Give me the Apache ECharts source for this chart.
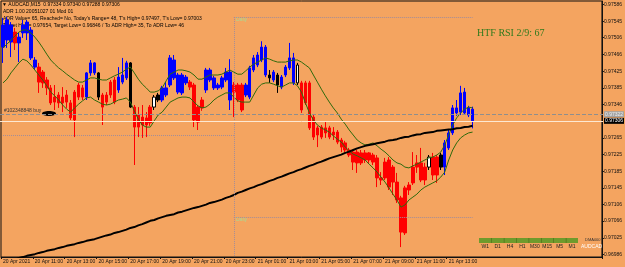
<!DOCTYPE html>
<html>
<head>
<meta charset="utf-8">
<script src="https://cdn.jsdelivr.net/npm/echarts@6/dist/echarts.min.js"></script>
<style>
    html, body {margin: 0; padding: 0; background: #F4A460;}
    #chart {width: 625px; height: 267px;}
</style>
</head>
<body>
<div id="chart"></div>
<script>
    // AUDCAD M15, 20 Apr 09:00 .. 21 Apr 14:30 (119 bars)
    var opens = [
        0.97483,0.97500,0.97495,0.97519,0.97493,0.97517,0.97517,0.97457,0.97435,0.97435,
        0.97423,0.97404,0.97385,0.97363,0.97368,0.97363,0.97368,0.97349,0.97375,0.97392,
        0.97385,0.97363,0.97421,0.97421,0.97421,0.97368,0.97368,0.97399,0.97404,0.97380,
        0.97399,0.97409,0.97445,0.97339,0.97320,0.97315,0.97313,0.97339,0.97339,0.97368,
        0.97356,0.97368,0.97392,0.97409,0.97375,0.97373,0.97397,0.97399,0.97392,0.97339,
        0.97356,0.97380,0.97404,0.97385,0.97385,0.97387,0.97404,0.97356,0.97392,0.97392,
        0.97392,0.97368,0.97363,0.97428,0.97440,0.97452,0.97416,0.97416,0.97404,0.97416,
        0.97387,0.97416,0.97433,0.97397,0.97397,0.97397,0.97397,0.97397,0.97315,0.97289,
        0.97291,0.97289,0.97289,0.97279,0.97279,0.97260,0.97253,0.97236,0.97231,0.97231,
        0.97229,0.97229,0.97229,0.97224,0.97217,0.97169,0.97207,0.97212,0.97195,0.97159,
        0.97121,0.97145,0.97152,0.97195,0.97205,0.97205,0.97195,0.97195,0.97219,0.97219,
        0.97224,0.97195,0.97241,0.97277,0.97325,0.97327,0.97325,0.97320,0.97334
    ];
    var closes = [
        0.97536,0.97548,0.97536,0.97493,0.97507,0.97536,0.97543,0.97524,0.97452,0.97399,
        0.97397,0.97385,0.97349,0.97351,0.97349,0.97349,0.97351,0.97313,0.97308,0.97363,
        0.97363,0.97421,0.97445,0.97445,0.97363,0.97339,0.97351,0.97368,0.97351,0.97411,
        0.97416,0.97445,0.97339,0.97291,0.97291,0.97296,0.97296,0.97301,0.97363,0.97356,
        0.97385,0.97385,0.97457,0.97452,0.97416,0.97416,0.97411,0.97387,0.97308,0.97303,
        0.97337,0.97428,0.97428,0.97409,0.97392,0.97409,0.97423,0.97423,0.97375,0.97356,
        0.97332,0.97392,0.97433,0.97457,0.97464,0.97483,0.97483,0.97409,0.97423,0.97392,
        0.97411,0.97435,0.97457,0.97457,0.97440,0.97332,0.97349,0.97289,0.97267,0.97272,
        0.97267,0.97277,0.97267,0.97272,0.97255,0.97243,0.97236,0.97224,0.97207,0.97205,
        0.97205,0.97212,0.97212,0.97207,0.97169,0.97164,0.97169,0.97147,0.97159,0.97116,
        0.97039,0.97037,0.97140,0.97157,0.97195,0.97164,0.97164,0.97219,0.97176,0.97176,
        0.97195,0.97253,0.97277,0.97337,0.97337,0.97373,0.97375,0.97337,0.97306
    ];
    var lows = [
        0.97445,0.97481,0.97459,0.97476,0.97447,0.97505,0.97500,0.97452,0.97428,0.97373,
        0.97385,0.97368,0.97344,0.97332,0.97337,0.97327,0.97337,0.97308,0.97267,0.97356,
        0.97356,0.97356,0.97414,0.97416,0.97356,0.97296,0.97344,0.97361,0.97346,0.97373,
        0.97394,0.97404,0.97337,0.97200,0.97267,0.97265,0.97267,0.97294,0.97332,0.97351,
        0.97351,0.97363,0.97387,0.97404,0.97370,0.97368,0.97392,0.97380,0.97291,0.97284,
        0.97330,0.97373,0.97399,0.97380,0.97380,0.97382,0.97399,0.97332,0.97315,0.97351,
        0.97327,0.97363,0.97358,0.97423,0.97435,0.97447,0.97411,0.97397,0.97399,0.97373,
        0.97382,0.97411,0.97428,0.97392,0.97392,0.97325,0.97344,0.97284,0.97260,0.97243,
        0.97262,0.97265,0.97262,0.97260,0.97250,0.97231,0.97231,0.97219,0.97188,0.97181,
        0.97200,0.97205,0.97205,0.97200,0.97147,0.97152,0.97164,0.97140,0.97128,0.97109,
        0.97003,0.97032,0.97128,0.97152,0.97181,0.97159,0.97152,0.97188,0.97164,0.97157,
        0.97188,0.97176,0.97236,0.97272,0.97318,0.97320,0.97320,0.97315,0.97288
    ];
    var highs = [
        0.97553,0.97555,0.97543,0.97529,0.97517,0.97548,0.97548,0.97531,0.97459,0.97445,
        0.97428,0.97411,0.97392,0.97392,0.97375,0.97387,0.97380,0.97356,0.97380,0.97397,
        0.97392,0.97423,0.97452,0.97447,0.97423,0.97373,0.97375,0.97404,0.97411,0.97435,
        0.97457,0.97450,0.97447,0.97344,0.97339,0.97344,0.97327,0.97344,0.97368,0.97373,
        0.97390,0.97399,0.97464,0.97464,0.97421,0.97421,0.97416,0.97404,0.97397,0.97344,
        0.97363,0.97433,0.97433,0.97414,0.97397,0.97414,0.97433,0.97454,0.97399,0.97397,
        0.97397,0.97397,0.97438,0.97464,0.97471,0.97497,0.97488,0.97428,0.97428,0.97421,
        0.97416,0.97440,0.97493,0.97469,0.97445,0.97402,0.97402,0.97402,0.97320,0.97294,
        0.97296,0.97303,0.97294,0.97291,0.97284,0.97265,0.97258,0.97241,0.97236,0.97236,
        0.97236,0.97236,0.97231,0.97229,0.97224,0.97183,0.97217,0.97219,0.97200,0.97181,
        0.97126,0.97150,0.97159,0.97231,0.97224,0.97241,0.97205,0.97224,0.97229,0.97224,
        0.97229,0.97260,0.97284,0.97344,0.97356,0.97390,0.97385,0.97342,0.97340
    ];
    // candle colouring of the chart template: b = blue, r = red, k = black, w = white
    var candleState = ('bbbrbbbbb' + 'rrrrrrrrrrrr' + 'bbbk' + 'rrrr' + 'bbbk' + 'rrrrr' + 'wk' +
        'bbbbbbb' + 'rrrr' + 'bbbbbbb' + 'rrr' + 'bbbbbb' + 'kbk' + 'bbbb' + 'w' +
        'rrrrrrrrrrrrrrrrrrrrrrrrrrrrrrrr' + 'w' + 'rr' + 'k' + 'bbbbbbbb').split('');

    // long moving average (black)
    var maLong = [
        0.96965,0.96967,0.96971,0.96973,0.96977,0.96979,0.96982,0.96984,0.96986,0.96989,
        0.96991,0.96994,0.96996,0.96998,0.97001,0.97003,0.97006,0.97008,0.97010,0.97013,
        0.97015,0.97018,0.97020,0.97022,0.97025,0.97028,0.97031,0.97033,0.97037,0.97039,
        0.97042,0.97045,0.97049,0.97051,0.97055,0.97058,0.97062,0.97066,0.97068,0.97072,
        0.97075,0.97078,0.97080,0.97082,0.97086,0.97088,0.97091,0.97094,0.97097,0.97099,
        0.97102,0.97105,0.97109,0.97111,0.97114,0.97117,0.97121,0.97124,0.97128,0.97133,
        0.97136,0.97140,0.97144,0.97147,0.97151,0.97154,0.97158,0.97162,0.97165,0.97169,
        0.97172,0.97176,0.97180,0.97183,0.97187,0.97190,0.97194,0.97198,0.97201,0.97205,
        0.97208,0.97212,0.97216,0.97219,0.97222,0.97225,0.97229,0.97232,0.97236,0.97240,
        0.97243,0.97246,0.97248,0.97250,0.97252,0.97254,0.97256,0.97259,0.97260,0.97262,
        0.97265,0.97267,0.97268,0.97271,0.97273,0.97274,0.97277,0.97278,0.97279,0.97282,
        0.97283,0.97284,0.97285,0.97286,0.97288,0.97289,0.97291,0.97292,0.97294
    ];
    // channel (green)
    var bandUpper = [
        0.97481,0.97490,0.97500,0.97510,0.97519,0.97524,0.97524,0.97517,0.97507,0.97495,
        0.97481,0.97466,0.97452,0.97442,0.97433,0.97426,0.97418,0.97411,0.97404,0.97399,
        0.97399,0.97404,0.97409,0.97409,0.97406,0.97404,0.97404,0.97409,0.97414,0.97418,
        0.97423,0.97430,0.97435,0.97421,0.97406,0.97394,0.97385,0.97375,0.97375,0.97378,
        0.97385,0.97402,0.97418,0.97423,0.97428,0.97428,0.97426,0.97423,0.97416,0.97406,
        0.97406,0.97411,0.97416,0.97416,0.97416,0.97418,0.97423,0.97428,0.97423,0.97418,
        0.97418,0.97426,0.97435,0.97442,0.97447,0.97452,0.97457,0.97454,0.97450,0.97447,
        0.97447,0.97447,0.97450,0.97452,0.97452,0.97447,0.97440,0.97433,0.97416,0.97399,
        0.97382,0.97366,0.97351,0.97337,0.97325,0.97310,0.97298,0.97284,0.97272,0.97260,
        0.97253,0.97248,0.97250,0.97253,0.97246,0.97238,0.97231,0.97222,0.97212,0.97205,
        0.97202,0.97195,0.97193,0.97198,0.97202,0.97207,0.97212,0.97217,0.97219,0.97224,
        0.97231,0.97248,0.97272,0.97296,0.97313,0.97325,0.97334,0.97339,0.97337
    ];
    var bandLower = [
        0.97397,0.97406,0.97421,0.97433,0.97445,0.97454,0.97450,0.97440,0.97428,0.97416,
        0.97404,0.97390,0.97375,0.97366,0.97356,0.97344,0.97334,0.97327,0.97337,0.97346,
        0.97354,0.97361,0.97363,0.97356,0.97351,0.97346,0.97344,0.97346,0.97351,0.97356,
        0.97358,0.97361,0.97351,0.97330,0.97310,0.97296,0.97291,0.97291,0.97306,0.97320,
        0.97327,0.97339,0.97351,0.97356,0.97361,0.97363,0.97363,0.97361,0.97351,0.97342,
        0.97337,0.97339,0.97346,0.97356,0.97363,0.97368,0.97373,0.97373,0.97363,0.97354,
        0.97351,0.97351,0.97351,0.97368,0.97385,0.97394,0.97397,0.97397,0.97394,0.97390,
        0.97387,0.97392,0.97397,0.97397,0.97390,0.97375,0.97349,0.97325,0.97308,0.97296,
        0.97289,0.97284,0.97279,0.97270,0.97262,0.97255,0.97243,0.97234,0.97226,0.97222,
        0.97217,0.97212,0.97202,0.97193,0.97183,0.97171,0.97159,0.97145,0.97130,0.97116,
        0.97099,0.97104,0.97116,0.97123,0.97130,0.97140,0.97147,0.97152,0.97157,0.97162,
        0.97171,0.97183,0.97212,0.97236,0.97253,0.97265,0.97272,0.97277,0.97279
    ];

    var bidPrice = 0.97306;
    var orderPrice = 0.97322;
    var prevDayLevel = 0.97272;
    var dayHighLevel = 0.97555;
    var dayLowLevel = 0.97075;
    var dayStartBar = 58;

    var yTicks = [0.97586, 0.97545, 0.97506, 0.97466, 0.97425, 0.97385, 0.97346,
        0.97265, 0.97225, 0.97185, 0.97145, 0.97106, 0.97066, 0.97025, 0.96986];
    var xTickLabels = ['20 Apr 2021', '20 Apr 11:00', '20 Apr 13:00', '20 Apr 15:00', '20 Apr 17:00',
        '20 Apr 19:00', '20 Apr 21:00', '20 Apr 23:00', '21 Apr 01:00', '21 Apr 03:00',
        '21 Apr 05:00', '21 Apr 07:00', '21 Apr 09:00', '21 Apr 11:00', '21 Apr 13:00'];
    var tfLabels = ['W1', 'D1', 'H4', 'H1', 'M30', 'M15', 'M5', 'M1'];

    var yMin = 0.969792, yMax = 0.975936;

    // 151 slots of 15 minutes (bars + empty chart shift on the right)
    var slotCount = 151;
    var categories = [];
    for (var i = 0; i < slotCount; i++) {
        var m = 9 * 60 + 15 * i;
        var hh = Math.floor((m % 1440) / 60), mm = m % 60;
        categories.push((20 + Math.floor(m / 1440)) + ' Apr ' + (hh < 10 ? '0' : '') + hh + ':' + (mm < 10 ? '0' : '') + mm);
    }

    var stateColors = {b: '#0000ff', r: '#ff0000', k: '#000000', w: '#ffffff'};
    var candles = [];
    for (var j = 0; j < opens.length; j++) {
        var c = stateColors[candleState[j]];
        var edge = candleState[j] === 'w' ? '#000000' : c;
        candles.push({
            value: [opens[j], closes[j], lows[j], highs[j]],
            itemStyle: {color: c, color0: c, borderColor: edge, borderColor0: edge, borderWidth: 1}
        });
    }

    var isTick = function (index) {
        return index % 8 === 0 && index / 8 < xTickLabels.length;
    };
    var small = '"Liberation Sans", Arial, sans-serif';
    var dotted = {color: '#a38d9a', type: 'dotted', width: 1};
    var lastSlot = slotCount - 1;
    var lastBar = opens.length - 1;

    var chart = echarts.init(document.getElementById('chart'));

    var graphics = [
        {type: 'text', x: 2, y: 5, z: 0, style: {text: '\u25BC AUDCAD,M15  0.97334 0.97340 0.97288 0.97306', font: '5px ' + small, fill: '#000', verticalAlign: 'middle'}},
        {type: 'text', x: 3, y: 12, z: 0, style: {text: 'ADR 1.00 20051027 01 Mod 01', font: '5px ' + small, fill: '#000', verticalAlign: 'middle'}},
        {type: 'text', x: 3, y: 19, z: 0, style: {text: "ADR Value= 65, Reached= No, Today's Range= 48, T's High= 0.97497, T's Low= 0.97003", font: '5px ' + small, fill: '#000', verticalAlign: 'middle'}},
        {type: 'text', x: 3, y: 25.5, z: 0, style: {text: 'Target High= 0.97654, Target Low= 0.96846 / To ADR High= 35, To ADR Low= 46', font: '5px ' + small, fill: '#000', verticalAlign: 'middle'}},
        {type: 'text', x: 477, y: 33, z: 0, style: {text: 'HTF RSI 2/9: 67', font: '10px "Liberation Serif", serif', fill: '#2f7a1c', verticalAlign: 'middle'}},
        {type: 'text', x: 4, y: 113, z: 0, style: {text: '#102348848 buy', font: '5px ' + small, fill: '#333', verticalAlign: 'bottom'}},
        {type: 'ellipse', shape: {cx: 49, cy: 113.5, rx: 7, ry: 2.5}, z: 0, style: {fill: '#000'}},
        {type: 'text', x: 236, y: 20, z: 0, style: {text: 'Daily', font: '5px ' + small, fill: '#a6dc95', verticalAlign: 'middle'}},
        {type: 'text', x: 236, y: 220, z: 0, style: {text: 'Daily', font: '5px ' + small, fill: '#a6dc95', verticalAlign: 'middle'}},
        {type: 'rect', shape: {x: 479, y: 238, width: 99, height: 5}, z: 0, style: {fill: '#6f9b2c'}},
        {type: 'text', x: 585, y: 240, z: 0, style: {text: 'DMA000', font: '4px ' + small, fill: '#333', verticalAlign: 'middle'}},
        {type: 'text', x: 581, y: 247, z: 0, style: {text: 'AUDCAD', font: '5px ' + small, fill: '#ffffff', verticalAlign: 'middle'}}
    ];
    tfLabels.forEach(function (t, k) {
        graphics.push({type: 'text', x: 485.2 + k * 12.4, y: 247, z: 0, style: {text: t, font: '5px ' + small, fill: '#222', align: 'center', verticalAlign: 'middle'}});
        if (k > 0) {
            graphics.push({type: 'rect', shape: {x: 479 + k * 12.4, y: 238, width: 0.6, height: 5}, z: 0, style: {fill: '#4a6a1a'}});
        }
    });

    var option = {
        backgroundColor: '#F4A460',
        animation: false,
        grid: {left: 0, right: 22, top: 1, bottom: 10, show: true, borderColor: '#111', borderWidth: 1, backgroundColor: 'transparent'},
        xAxis: {
            type: 'category',
            data: categories,
            boundaryGap: true,
            axisLine: {show: true, lineStyle: {color: '#111', width: 1}},
            axisTick: {show: true, interval: isTick, length: 2, lineStyle: {color: '#111'}},
            axisLabel: {
                interval: isTick,
                formatter: function (v, idx) { return xTickLabels[idx / 8] || ''; },
                align: 'left', fontSize: 5, color: '#111', margin: 2, fontFamily: small
            },
            splitLine: {show: false}
        },
        yAxis: {
            type: 'value',
            position: 'right',
            min: yMin,
            max: yMax,
            axisLine: {show: true, lineStyle: {color: '#111', width: 1}},
            axisTick: {show: true, length: 2, customValues: yTicks, lineStyle: {color: '#111'}},
            axisLabel: {
                customValues: yTicks,
                formatter: function (v) { return v.toFixed(5); },
                fontSize: 5, color: '#111', margin: 2, fontFamily: small
            },
            splitLine: {show: false}
        },
        graphic: {elements: graphics},
        series: [
            {
                type: 'candlestick',
                data: candles,
                barWidth: 3,
                z: 2
            },
            {
                type: 'line', data: bandUpper, symbol: 'none', z: 3,
                lineStyle: {color: '#2e6a0c', width: 1}
            },
            {
                type: 'line', data: bandLower, symbol: 'none', z: 3,
                lineStyle: {color: '#2e6a0c', width: 1}
            },
            {
                type: 'line', data: maLong, symbol: 'none', z: 4,
                lineStyle: {color: '#000000', width: 2},
                markLine: {
                    symbol: ['none', 'none'],
                    silent: true,
                    animation: false,
                    label: {show: false},
                    data: [
                        [{coord: [0, prevDayLevel], lineStyle: dotted}, {coord: [dayStartBar, prevDayLevel]}],
                        [{coord: [dayStartBar, dayHighLevel], lineStyle: dotted}, {coord: [lastBar, dayHighLevel]}],
                        [{coord: [dayStartBar, dayLowLevel], lineStyle: dotted}, {coord: [lastBar, dayLowLevel]}],
                        [{coord: [dayStartBar, dayHighLevel], lineStyle: dotted}, {coord: [dayStartBar, yMin]}],
                        [{coord: [0, orderPrice], x: 0, lineStyle: {color: '#8e8e8e', type: [4, 2], width: 1}},
                            {coord: [lastSlot, orderPrice], x: 603}],
                        [{coord: [0, bidPrice], x: 0, lineStyle: {color: '#fde8d2', type: 'solid', width: 1}},
                            {coord: [lastSlot, bidPrice], x: 603}]
                    ]
                }
            }
        ]
    };
    chart.setOption(option);

    // price tags on the right scale, placed through the y axis
    function priceTag(price, bg, fg) {
        var y = chart.convertToPixel({yAxisIndex: 0}, price);
        return [
            {type: 'rect', shape: {x: 604, y: y - 3, width: 20, height: 6}, z: 10, style: {fill: bg}},
            {type: 'text', x: 605, y: y, z: 11, style: {text: price.toFixed(5), font: '5px ' + small, fill: fg, verticalAlign: 'middle'}}
        ];
    }
    chart.setOption({
        graphic: {elements: graphics.concat(priceTag(orderPrice, '#a3a3a3', '#eeeeee'), priceTag(bidPrice, '#000000', '#ffffff'))}
    });
</script>
</body>
</html>
